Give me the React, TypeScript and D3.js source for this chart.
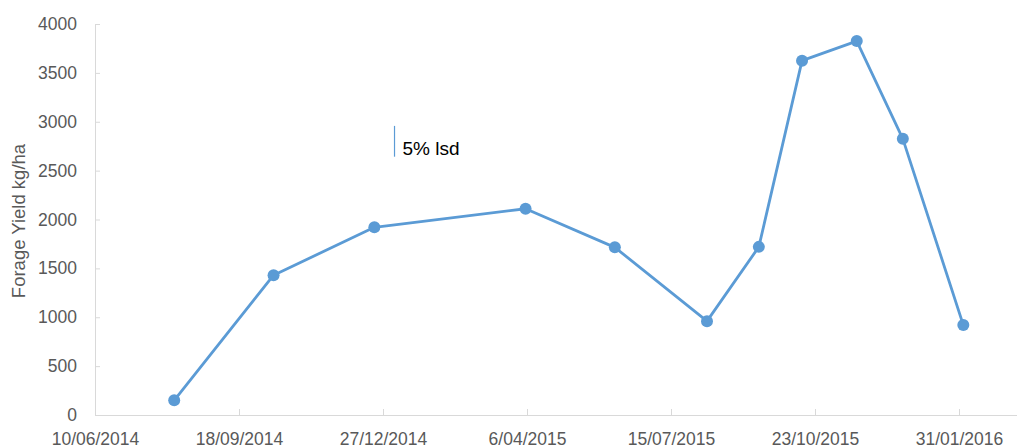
import React, { useEffect, useRef } from "react";
import * as d3 from "d3";

const sampleDates = [
  "2014-08-04", "2014-10-12", "2014-12-21", "2015-04-05", "2015-06-06",
  "2015-08-09", "2015-09-14", "2015-10-14", "2015-11-21", "2015-12-23", "2016-02-03",
];
const yieldValues = [150, 1430, 1920, 2110, 1715, 960, 1720, 3625, 3825, 2825, 920];
const xTickDates = [
  "2014-06-10", "2014-09-18", "2014-12-27", "2015-04-06",
  "2015-07-15", "2015-10-23", "2016-01-31",
];
const xDomain = ["2014-06-10", "2016-05-10"];
const yTickValues = [0, 500, 1000, 1500, 2000, 2500, 3000, 3500, 4000];
const lsdDate = "2015-01-04";
const lsdCentre = 2800;
const lsdValue = 315;
const lsdLabel = "5% lsd";
const yTitle = "Forage Yield kg/ha";

const W = 1017;
const H = 448;
const FONT = "'Liberation Sans', Arial, sans-serif";

export default function App() {
  const ref = useRef<SVGSVGElement | null>(null);

  useEffect(() => {
    const svg = d3.select(ref.current);
    svg.selectAll("*").remove();
    const parse = d3.utcParse("%Y-%m-%d");
    const x = d3
      .scaleUtc()
      .domain([parse(xDomain[0])!, parse(xDomain[1])!])
      .range([95, 1103]);
    const y = d3.scaleLinear().domain([0, 4000]).range([415, 24]);

    // Y axis
    const yAxis = d3
      .axisLeft(y)
      .tickValues(yTickValues)
      .tickSizeInner(-5)
      .tickSizeOuter(0)
      .tickPadding(18)
      .tickFormat((d) => String(d));
    const gy = svg.append("g").attr("transform", "translate(95,0)").call(yAxis);
    gy.select(".domain").attr("stroke", "#D9D9D9").attr("stroke-width", 1);
    gy.selectAll(".tick line").attr("stroke", "#D9D9D9");
    gy.selectAll(".tick text")
      .attr("fill", "#595959")
      .attr("font-family", FONT)
      .attr("font-size", 17.5);

    // X axis
    const fmt = d3.utcFormat("%-d/%m/%Y");
    const xAxis = d3
      .axisBottom(x)
      .tickValues(xTickDates.map((d) => parse(d)!))
      .tickSizeInner(-6)
      .tickSizeOuter(0)
      .tickFormat((d) => fmt(d as Date));
    const gx = svg.append("g").attr("transform", "translate(0,415)").call(xAxis);
    gx.select(".domain").attr("stroke", "#D9D9D9").attr("stroke-width", 1);
    gx.selectAll(".tick line").attr("stroke", "#D9D9D9");
    gx.selectAll(".tick text")
      .attr("fill", "#595959")
      .attr("font-family", FONT)
      .attr("font-size", 17.5)
      .attr("y", 29.5)
      .attr("dy", "0");

    // Y title
    svg
      .append("text")
      .attr("transform", "translate(25,221) rotate(-90)")
      .attr("text-anchor", "middle")
      .attr("fill", "#595959")
      .attr("font-family", FONT)
      .attr("font-size", 18.5)
      .text(yTitle);

    // LSD bar
    const lx = x(parse(lsdDate)!);
    svg
      .append("line")
      .attr("x1", lx)
      .attr("x2", lx)
      .attr("y1", y(lsdCentre + lsdValue / 2))
      .attr("y2", y(lsdCentre - lsdValue / 2))
      .attr("stroke", "#5B9BD5")
      .attr("stroke-width", 1.2);
    svg
      .append("text")
      .attr("x", lx + 8)
      .attr("y", y(lsdCentre) + 14)
      .attr("fill", "#000")
      .attr("font-family", FONT)
      .attr("font-size", 19)
      .text(lsdLabel);

    // Series
    const data = sampleDates.map((d, i) => ({ date: parse(d)!, value: yieldValues[i] }));
    const line = d3
      .line<{ date: Date; value: number }>()
      .x((d) => x(d.date))
      .y((d) => y(d.value));
    svg
      .append("path")
      .datum(data)
      .attr("d", line)
      .attr("fill", "none")
      .attr("stroke", "#5B9BD5")
      .attr("stroke-width", 2.8)
      .attr("stroke-linejoin", "round");
    svg
      .selectAll("circle.pt")
      .data(data)
      .enter()
      .append("circle")
      .attr("class", "pt")
      .attr("cx", (d) => x(d.date))
      .attr("cy", (d) => y(d.value))
      .attr("r", 6)
      .attr("fill", "#5B9BD5");
  }, []);

  return (
    <div style={{ position: "absolute", left: 0, top: 0 }}>
      <svg ref={ref} width={W} height={H} style={{ display: "block", background: "#fff" }} />
    </div>
  );
}
